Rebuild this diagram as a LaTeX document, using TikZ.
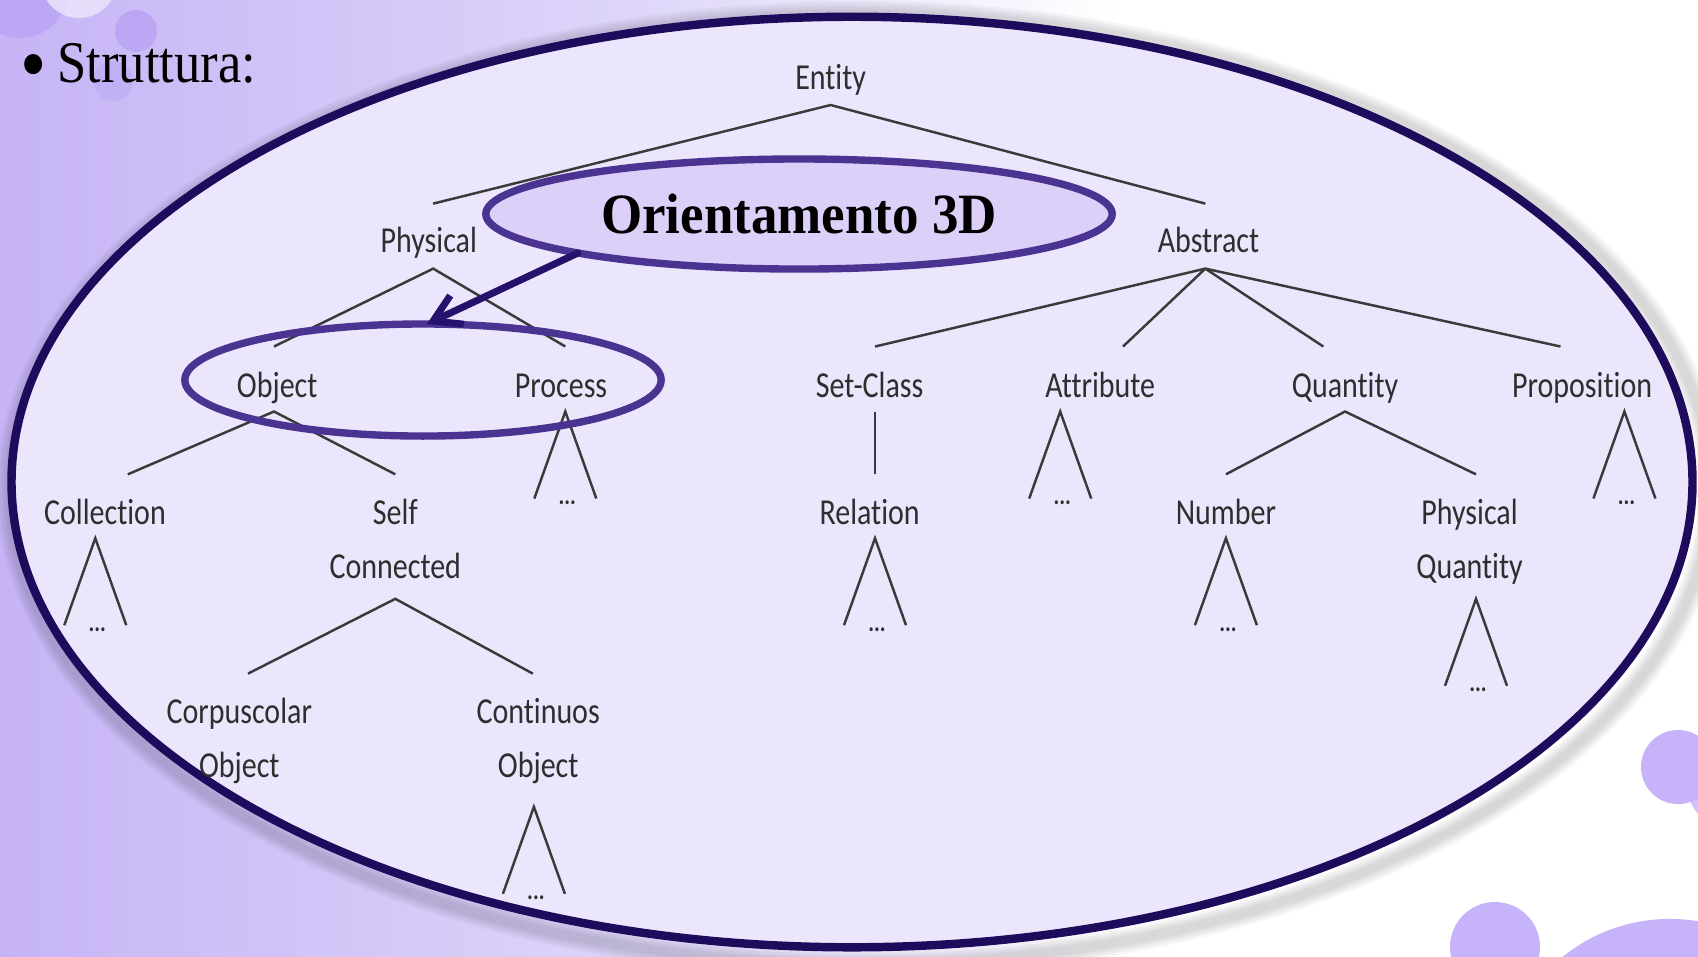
\documentclass[tikz,border=0pt]{standalone}
\usepackage{fontspec}
\setmainfont{Liberation Serif}
\newfontfamily\treefont[FakeStretch=0.82,Ligatures=NoCommon]{Carlito}
\newfontfamily\slidefont[FakeStretch=0.89]{Liberation Serif}
\newfontfamily\orfont[FakeStretch=0.93]{Liberation Serif}
\usetikzlibrary{arrows.meta,shapes.geometric,calc}
\definecolor{bgA}{HTML}{C6B4F5}
\definecolor{bgB}{HTML}{DDD4F9}
\definecolor{ellfill}{HTML}{ECE6FC}
\definecolor{elldraw}{HTML}{1E0B5C}
\definecolor{hlfill}{HTML}{DCD0F9}
\definecolor{hldraw}{HTML}{4A3391}
\definecolor{arrowc}{HTML}{26126C}
\definecolor{treeline}{HTML}{3A3A3A}
\definecolor{treetext}{HTML}{2E2E2E}
\definecolor{dotA}{HTML}{BBA7F3}
\definecolor{dotB}{HTML}{C2B0F6}
\definecolor{dotC}{HTML}{C6B3FA}
\definecolor{dotlight}{HTML}{ECE7FC}
\pgfdeclarehorizontalshading{bgshade}{100bp}{color(0bp)=(bgA); color(25bp)=(bgA); color(43bp)=(bgB); color(58bp)=(white); color(100bp)=(white)}
\newcommand\twolines[2]{\begin{tabular}[t]{@{}c@{}}#1\\#2\end{tabular}}
\newcommand\subtri[2]{%
  \coordinate (#1-t) at (#2);
  \draw[treeln] ($(#1-t)+(-31,87)$) -- (#1-t) -- ($(#1-t)+(31,87)$);
  \node[dotsn] (#1-d) at ($(#1-t)+(2,93)$) {...};
}
\begin{document}
\begin{tikzpicture}[x=0.01cm,y=-0.01cm,
  treeln/.style={draw=treeline, line width=0.7pt},
  lbl/.style={font=\treefont\fontsize{10.4}{15.4}\selectfont, text=treetext, anchor=base, inner sep=0pt},
  dotsn/.style={font=\treefont\bfseries\fontsize{7.5}{8}\selectfont, text=treetext, anchor=base, inner sep=0pt},
  hl/.style={ellipse, draw=hldraw, line width=2.1pt, inner sep=0pt, outer sep=0pt},
  arr/.style={draw=arrowc, line width=2pt, line cap=round, -{Straight Barb[length=7.5pt,width=9pt]}}]
\useasboundingbox (0,0) rectangle (1698,956);
\shade[shading=bgshade] (0,0) rectangle (1698,956);
% decorative circles
\fill[dotA] (20,-10) circle [radius=0.48cm];
\fill[dotlight, opacity=0.8] (79,-20) circle [radius=0.38cm];
\fill[dotA] (136,31) circle [radius=0.21cm];
\fill[dotB] (113,81) circle [radius=0.20cm];
\fill[dotC] (1678,767) circle [radius=0.37cm];
\fill[dotC, opacity=0.8] (1730,785) circle [radius=0.43cm];
\fill[dotC] (1495,947) circle [radius=0.45cm];
\fill[dotC] (1670,1090) circle [radius=1.71cm];
% big ellipse with soft shadow
\foreach \i in {1,...,7} {\draw[black, opacity=0.035, line width=3pt] (860,489) ellipse [x radius={8.40cm+\i*0.025cm}, y radius={4.65cm+\i*0.025cm}];}
\draw[draw=elldraw, fill=ellfill, line width=2.4pt] (852,482) ellipse [x radius=8.40cm, y radius=4.65cm];
% title
\node[anchor=base west, inner sep=0pt] (struttura) at (20,82) {\slidefont\fontsize{16.8}{20}\selectfont\raisebox{-3pt}{\fontsize{24}{24}\selectfont •}\hspace{3pt}Struttura:};
% labels
\node[lbl] (entity) at (830.6,89) {Entity};
\node[lbl] (physical) at (428.8,252) {Physical};
\node[lbl] (abstract) at (1208.5,252) {Abstract};
\node[lbl] (object) at (277.2,397.5) {Object};
\node[lbl] (process) at (561,397.5) {Process};
\node[lbl] (setclass) at (869.6,397.5) {Set-Class};
\node[lbl] (attribute) at (1100.2,397.5) {Attribute};
\node[lbl] (quantity) at (1345,397.5) {Quantity};
\node[lbl] (proposition) at (1582.1,397.5) {Proposition};
\node[lbl] (collection) at (105,524) {Collection};
\node[lbl] (selfconn) at (395.3,524) {\twolines{Self}{Connected}};
\node[lbl] (relation) at (869.6,524) {Relation};
\node[lbl] (number) at (1225.9,524) {Number};
\node[lbl] (physqty) at (1469.5,524) {\twolines{Physical}{Quantity}};
\node[lbl] (corpus) at (239.3,723.5) {\twolines{Corpuscolar}{Object}};
\node[lbl] (contin) at (538.2,723.5) {\twolines{Continuos}{Object}};
% junction coordinates
\coordinate (e-top) at (830.6,105);
\coordinate (e-l) at (433.2,203.6);
\coordinate (e-r) at (1205.3,203.6);
\coordinate (p-top) at (433.2,268.6);
\coordinate (p-l) at (274,346.5);
\coordinate (p-r) at (565.3,346.5);
\coordinate (a-top) at (1205.3,268.6);
\coordinate (a-1) at (875,346.5);
\coordinate (a-2) at (1123,346.5);
\coordinate (a-3) at (1323.3,346.5);
\coordinate (a-4) at (1560.5,346.5);
\coordinate (o-top) at (274,411.5);
\coordinate (o-l) at (127.8,474.3);
\coordinate (o-r) at (395.3,474.3);
\coordinate (s-top) at (875,411.5);
\coordinate (s-b) at (875,474.3);
\coordinate (q-top) at (1345,411.5);
\coordinate (q-l) at (1225.9,474.3);
\coordinate (q-r) at (1476,474.3);
\coordinate (sc-top) at (395.3,598.8);
\coordinate (sc-l) at (248,673.6);
\coordinate (sc-r) at (532.8,673.6);
% tree lines
\draw[treeln] (e-l) -- (e-top) -- (e-r);
\draw[treeln] (p-l) -- (p-top) -- (p-r);
\draw[treeln] (a-1) -- (a-top) -- (a-4);
\draw[treeln] (a-top) -- (a-2);
\draw[treeln] (a-top) -- (a-3);
\draw[treeln] (o-l) -- (o-top) -- (o-r);
\draw[treeln] (s-top) -- (s-b);
\draw[treeln] (q-l) -- (q-top) -- (q-r);
\draw[treeln] (sc-l) -- (sc-top) -- (sc-r);
% collapsed subtrees
\subtri{proc}{565.3,411.5}
\subtri{attr}{1060.2,411.5}
\subtri{prop}{1624.4,411.5}
\subtri{coll}{95.3,538.2}
\subtri{rel}{875,538.2}
\subtri{num}{1225.9,538.2}
\subtri{pq}{1476,598.8}
\subtri{cont}{533.9,806.8}
% highlights
\node[hl, minimum width=4.76cm, minimum height=1.12cm] (objproc) at (423,380) {};
\node[hl, fill=hlfill, minimum width=6.26cm, minimum height=1.10cm] (orient) at (799,214) {\orfont\bfseries\fontsize{16.2}{18}\selectfont Orientamento 3D};
\draw[arr] (orient.190) -- (objproc.86);
\end{tikzpicture}
\end{document}
